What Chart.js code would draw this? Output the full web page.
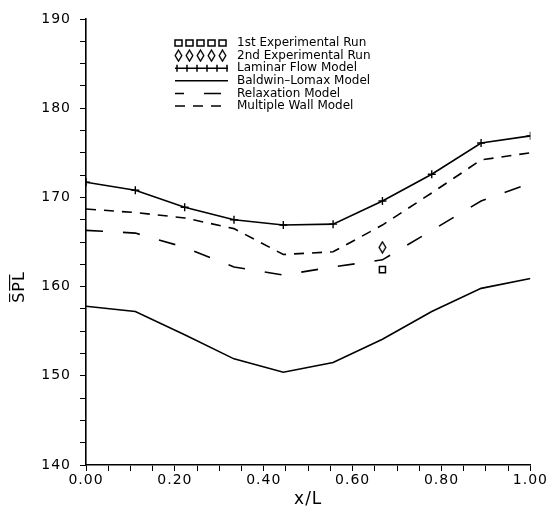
<!DOCTYPE html>
<html lang="en">
  <head>
    <meta charset="UTF-8" />
    <title>SPL along x/L</title>
    <style>
      body { margin: 0; background: #fff; }
      canvas { display: block; }
    </style>
  </head>
  <body>
    <canvas id="splChart" width="549" height="516"></canvas>

    <script src="https://cdn.jsdelivr.net/npm/chart.js"></script>
    <script>
      // stations along the wall
      const xStations = [0.000, 0.111, 0.222, 0.333, 0.444, 0.556, 0.667, 0.778, 0.889, 1.000];
      const laminarFlow = [171.7, 170.8, 168.9, 167.5, 166.9, 167.0, 169.6, 172.6, 176.1, 176.9];
      const baldwinLomax = [157.8, 157.2, 154.6, 151.9, 150.4, 151.5, 154.1, 157.2, 159.8, 160.9];
      const relaxation = [166.3, 166.0, 164.4, 162.2, 161.3, 162.2, 163.0, 166.3, 169.6, 171.6];
      const multipleWall = [168.7, 168.3, 167.7, 166.5, 163.6, 163.9, 166.9, 170.5, 174.2, 175.0];

      // experimental points
      const expX = [0.667];
      const firstRun = [161.9];
      const secondRun = [164.4];

      const seriesNames = [
        "1st Experimental Run",
        "2nd Experimental Run",
        "Laminar Flow Model",
        "Baldwin\u2013Lomax Model",
        "Relaxation Model",
        "Multiple Wall Model",
      ];

      const yTitle = "S\u0305P\u0305L\u0305";
      const xTitle = "x/L";

      const toPoints = (xs, ys) => xs.map((x, i) => ({ x, y: ys[i] }));

      // tall thin diamond marker
      function makeDiamond() {
        const c = document.createElement("canvas");
        c.width = 9;
        c.height = 13;
        const g = c.getContext("2d");
        g.lineWidth = 1.4;
        g.strokeStyle = "#000";
        g.beginPath();
        g.moveTo(4.5, 1);
        g.lineTo(7.8, 6.5);
        g.lineTo(4.5, 12);
        g.lineTo(1.2, 6.5);
        g.closePath();
        g.stroke();
        return c;
      }
      const diamond = makeDiamond();

      const lineBase = {
        borderColor: "#000",
        borderWidth: 1.6,
        pointRadius: 0,
        fill: false,
        tension: 0,
      };

      // legend drawn inside the plot, like the original figure
      const insideLegend = {
        id: "insideLegend",
        beforeUpdate(chart) {
          chart.ctx.letterSpacing = "1px";
        },
        afterDraw(chart) {
          const ctx = chart.ctx;
          const area = chart.chartArea;
          const x0 = area.left + 89;
          const x1 = area.left + 142;
          const textX = area.left + 151;
          let y = area.top + 24;

          ctx.save();
          ctx.letterSpacing = "0px";
          ctx.strokeStyle = "#000";
          ctx.fillStyle = "#000";
          ctx.lineWidth = 1.5;
          chart.data.datasets.forEach((ds) => {
            if (ds.showLine === false) {
              for (let k = 0; k < 5; k++) {
                const cx = x0 + 3.5 + k * 11;
                if (ds.pointStyle === "rect") {
                  ctx.strokeRect(cx - 3.5, y - 3, 7, 6);
                } else {
                  ctx.drawImage(diamond, cx - 4.5, y - 6.5);
                }
              }
            } else {
              ctx.setLineDash(ds.borderDash || []);
              ctx.lineDashOffset = ds.legendDashOffset || 0;
              ctx.beginPath();
              ctx.moveTo(x0, y);
              ctx.lineTo(x1, y);
              ctx.stroke();
              ctx.setLineDash([]);
              if (ds.pointStyle === "cross" && ds.pointRadius > 0) {
                for (let k = 0; k < 6; k++) {
                  const cx = x0 + 2 + k * 10;
                  ctx.beginPath();
                  ctx.moveTo(cx, y - 3.5);
                  ctx.lineTo(cx, y + 3.5);
                  ctx.stroke();
                }
              }
            }
            ctx.font = "12px 'DejaVu Sans'";
            ctx.textBaseline = "middle";
            ctx.textAlign = "left";
            ctx.fillText(ds.label, textX, y);
            y += 12.6;
          });

          // y axis title with overline
          ctx.translate(20, 287);
          ctx.rotate(-Math.PI / 2);
          ctx.letterSpacing = "1px";
          ctx.font = "16px 'DejaVu Sans'";
          ctx.textAlign = "center";
          ctx.textBaseline = "middle";
          ctx.fillText(yTitle, 0, 0);
          ctx.restore();
        },
      };

      const chart = new Chart("splChart", {
        type: "line",
        data: {
          datasets: [
            {
              label: seriesNames[0],
              data: toPoints(expX, firstRun),
              showLine: false,
              pointStyle: "rect",
              pointRadius: 4.3,
              borderColor: "#000",
              backgroundColor: "#fff",
              borderWidth: 1.5,
            },
            {
              label: seriesNames[1],
              data: toPoints(expX, secondRun),
              showLine: false,
              pointStyle: diamond,
              pointRadius: 5,
              borderColor: "#000",
              backgroundColor: "#fff",
            },
            {
              ...lineBase,
              label: seriesNames[2],
              data: toPoints(xStations, laminarFlow),
              pointStyle: "cross",
              pointRadius: 4,
              pointBorderWidth: 1.4,
              pointBorderColor: "#000",
            },
            {
              ...lineBase,
              label: seriesNames[3],
              data: toPoints(xStations, baldwinLomax),
            },
            {
              ...lineBase,
              label: seriesNames[4],
              data: toPoints(xStations, relaxation),
              borderDash: [17, 20],
              legendDashOffset: 8,
            },
            {
              ...lineBase,
              label: seriesNames[5],
              data: toPoints(xStations, multipleWall),
              borderDash: [10, 8],
            },
          ],
        },
        options: {
          responsive: false,
          animation: false,
          layout: { padding: { top: 19, right: 18, left: 0, bottom: 0 } },
          plugins: {
            legend: { display: false },
            tooltip: { enabled: false },
          },
          scales: {
            x: {
              type: "linear",
              min: 0,
              max: 1,
              afterFit: (scale) => { scale.height = 51; },
              ticks: {
                stepSize: 0.05,
                autoSkip: false,
                maxRotation: 0,
                padding: 1,
                color: "#000",
                font: { family: "DejaVu Sans", size: 14 },
                callback: (v) => Math.abs(v * 5 - Math.round(v * 5)) < 1e-6 ? v.toFixed(2) : "",
              },
              grid: {
                drawOnChartArea: false,
                drawTicks: true,
                tickLength: 6,
                color: "#000",
                lineWidth: 1,
              },
              border: { display: true, color: "#000", width: 1.6 },
              title: {
                display: true,
                text: xTitle,
                color: "#000",
                font: { family: "DejaVu Sans", size: 17 },
                padding: { top: 0, bottom: 6 },
              },
            },
            y: {
              min: 140,
              max: 190,
              afterFit: (scale) => { scale.width = 86; },
              ticks: {
                stepSize: 2.5,
                autoSkip: false,
                padding: 9,
                color: "#000",
                font: { family: "DejaVu Sans", size: 14 },
                callback: (v) => v % 10 === 0 ? v : "",
              },
              grid: {
                drawOnChartArea: false,
                drawTicks: true,
                tickLength: 6,
                color: "#000",
                lineWidth: 1,
              },
              border: { display: true, color: "#000", width: 1.6 },
            },
          },
        },
        plugins: [insideLegend],
      });
    </script>
  </body>
</html>
